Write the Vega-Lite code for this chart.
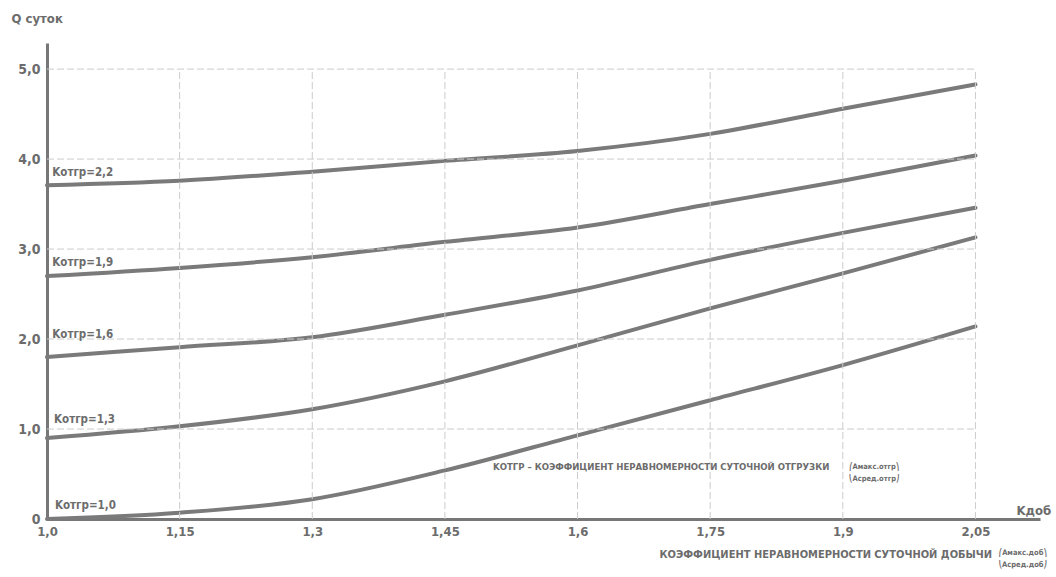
{
  "$schema": "https://vega.github.io/schema/vega-lite/v6.json",
  "width": 993,
  "height": 476,
  "autosize": {"type": "none"},
  "padding": {"left": 47, "top": 43, "right": 16, "bottom": 58},
  "background": "white",
  "config": {
    "view": {"stroke": null},
    "font": "'DejaVu Sans Condensed', 'Liberation Sans Narrow', 'DejaVu Sans', sans-serif",
    "text": {"font": "'DejaVu Sans Condensed', 'Liberation Sans Narrow', 'DejaVu Sans', sans-serif", "fontWeight": "bold", "color": "#6c6c6c"}
  },
  "datasets": {
    "curves": [
      {"k": "2,2", "x": 1.0, "q": 3.71}, {"k": "2,2", "x": 1.15, "q": 3.76}, {"k": "2,2", "x": 1.3, "q": 3.86}, {"k": "2,2", "x": 1.45, "q": 3.98},
      {"k": "2,2", "x": 1.6, "q": 4.09}, {"k": "2,2", "x": 1.75, "q": 4.28}, {"k": "2,2", "x": 1.9, "q": 4.56}, {"k": "2,2", "x": 2.05, "q": 4.83},
      {"k": "1,9", "x": 1.0, "q": 2.70}, {"k": "1,9", "x": 1.15, "q": 2.79}, {"k": "1,9", "x": 1.3, "q": 2.91}, {"k": "1,9", "x": 1.45, "q": 3.08},
      {"k": "1,9", "x": 1.6, "q": 3.24}, {"k": "1,9", "x": 1.75, "q": 3.50}, {"k": "1,9", "x": 1.9, "q": 3.76}, {"k": "1,9", "x": 2.05, "q": 4.04},
      {"k": "1,6", "x": 1.0, "q": 1.80}, {"k": "1,6", "x": 1.15, "q": 1.91}, {"k": "1,6", "x": 1.3, "q": 2.02}, {"k": "1,6", "x": 1.45, "q": 2.27},
      {"k": "1,6", "x": 1.6, "q": 2.54}, {"k": "1,6", "x": 1.75, "q": 2.88}, {"k": "1,6", "x": 1.9, "q": 3.18}, {"k": "1,6", "x": 2.05, "q": 3.46},
      {"k": "1,3", "x": 1.0, "q": 0.90}, {"k": "1,3", "x": 1.15, "q": 1.03}, {"k": "1,3", "x": 1.3, "q": 1.22}, {"k": "1,3", "x": 1.45, "q": 1.53},
      {"k": "1,3", "x": 1.6, "q": 1.93}, {"k": "1,3", "x": 1.75, "q": 2.34}, {"k": "1,3", "x": 1.9, "q": 2.73}, {"k": "1,3", "x": 2.05, "q": 3.13},
      {"k": "1,0", "x": 1.0, "q": 0.00}, {"k": "1,0", "x": 1.15, "q": 0.07}, {"k": "1,0", "x": 1.3, "q": 0.22}, {"k": "1,0", "x": 1.45, "q": 0.54},
      {"k": "1,0", "x": 1.6, "q": 0.93}, {"k": "1,0", "x": 1.75, "q": 1.32}, {"k": "1,0", "x": 1.9, "q": 1.71}, {"k": "1,0", "x": 2.05, "q": 2.14}
    ],
    "vgrid": [{"x": 1.15}, {"x": 1.3}, {"x": 1.45}, {"x": 1.6}, {"x": 1.75}, {"x": 1.9}, {"x": 2.05}],
    "hgrid": [{"q": 1}, {"q": 2}, {"q": 3}, {"q": 4}, {"q": 5}],
    "labels": [
      {"x": 1.006, "q": 3.84, "label": "Kотгр=2,2"},
      {"x": 1.006, "q": 2.84, "label": "Kотгр=1,9"},
      {"x": 1.006, "q": 2.04, "label": "Kотгр=1,6"},
      {"x": 1.008, "q": 1.10, "label": "Kотгр=1,3"},
      {"x": 1.009, "q": 0.14, "label": "Kотгр=1,0"}
    ]
  },
  "layer": [
    {
      "data": {"name": "curves"},
      "mark": {"type": "line", "stroke": "#7a7a7a", "strokeWidth": 4, "interpolate": "monotone", "strokeCap": "round"},
      "encoding": {
        "detail": {"field": "k"},
        "x": {
          "field": "x", "type": "quantitative",
          "scale": {"domain": [1, 2.123], "nice": false, "zero": false},
          "axis": {
            "values": [1, 1.15, 1.3, 1.45, 1.6, 1.75, 1.9, 2.05],
            "labelExpr": "datum.value == 1 ? '1,0' : replace(format(datum.value, '.2~f'), '.', ',')",
            "grid": false, "ticks": false,
            "domainColor": "#777777", "domainWidth": 3,
            "labelFont": "'DejaVu Sans Condensed', 'Liberation Sans Narrow', 'DejaVu Sans', sans-serif",
            "labelFontSize": 13, "labelFontWeight": "bold", "labelColor": "#6c6c6c", "labelPadding": 6,
            "labelFlush": false,
            "title": "КОЭФФИЦИЕНТ НЕРАВНОМЕРНОСТИ СУТОЧНОЙ ДОБЫЧИ",
            "titleFont": "'DejaVu Sans Condensed', 'Liberation Sans Narrow', 'DejaVu Sans', sans-serif",
            "titleFontSize": 11, "titleFontWeight": "bold", "titleColor": "#6c6c6c",
            "titleAlign": "left", "titleBaseline": "middle",
            "titleX": 612, "titleY": 35
          }
        },
        "y": {
          "field": "q", "type": "quantitative",
          "scale": {"domain": [0, 5.29], "nice": false, "zero": false},
          "axis": {
            "values": [0, 1, 2, 3, 4, 5],
            "labelExpr": "datum.value == 0 ? '0' : replace(format(datum.value, '.1f'), '.', ',')",
            "grid": false, "ticks": false,
            "domainColor": "#777777", "domainWidth": 3,
            "labelFont": "'DejaVu Sans Condensed', 'Liberation Sans Narrow', 'DejaVu Sans', sans-serif",
            "labelFontSize": 14, "labelFontWeight": "bold", "labelColor": "#6c6c6c", "labelPadding": 7,
            "labelFlush": false,
            "title": "Q суток",
            "titleFont": "'DejaVu Sans Condensed', 'Liberation Sans Narrow', 'DejaVu Sans', sans-serif",
            "titleFontSize": 13, "titleFontWeight": "bold", "titleColor": "#6c6c6c",
            "titleAngle": 0, "titleAlign": "left", "titleBaseline": "middle",
            "titleX": -36, "titleY": -25
          }
        }
      }
    },
    {
      "data": {"name": "vgrid"},
      "mark": {"type": "rule", "stroke": "#cccccc", "strokeWidth": 1, "strokeDash": [7, 3]},
      "encoding": {
        "x": {"field": "x", "type": "quantitative", "scale": {"domain": [1, 2.123], "nice": false, "zero": false}},
        "y": {"datum": 0, "type": "quantitative", "scale": {"domain": [0, 5.29], "nice": false, "zero": false}},
        "y2": {"datum": 5}
      }
    },
    {
      "data": {"name": "hgrid"},
      "mark": {"type": "rule", "stroke": "#cccccc", "strokeWidth": 1, "strokeDash": [7, 3]},
      "encoding": {
        "x": {"datum": 1, "type": "quantitative", "scale": {"domain": [1, 2.123], "nice": false, "zero": false}},
        "x2": {"datum": 2.05},
        "y": {"field": "q", "type": "quantitative", "scale": {"domain": [0, 5.29], "nice": false, "zero": false}}
      }
    },
    {
      "data": {"name": "labels"},
      "mark": {"type": "text", "align": "left", "baseline": "middle", "fontSize": 11.5},
      "encoding": {
        "x": {"field": "x", "type": "quantitative"},
        "y": {"field": "q", "type": "quantitative"},
        "text": {"field": "label"}
      }
    },
    {
      "data": {"values": [{"x": 1.5045, "q": 0.58, "t": "KОТГР – КОЭФФИЦИЕНТ НЕРАВНОМЕРНОСТИ СУТОЧНОЙ ОТГРУЗКИ"}]},
      "mark": {"type": "text", "align": "left", "baseline": "middle", "fontSize": 9.5},
      "encoding": {
        "x": {"field": "x", "type": "quantitative"},
        "y": {"field": "q", "type": "quantitative"},
        "text": {"field": "t"}
      }
    },
    {
      "data": {"values": [
        {"x": 1.9355, "q": 0.58, "t": "⎛Aмакс.отгр⎞\n⎝Aсред.отгр⎠"},
        {"x": 2.1035, "q": -0.38, "t": "⎛Aмакс.доб⎞\n⎝Aсред.доб⎠"}
      ]},
      "mark": {"type": "text", "align": "center", "baseline": "middle", "fontSize": 7.5, "lineBreak": "\n", "lineHeight": 12},
      "encoding": {
        "x": {"field": "x", "type": "quantitative"},
        "y": {"field": "q", "type": "quantitative"},
        "text": {"field": "t"}
      }
    },
    {
      "data": {"values": [{"x": 2.116, "q": 0.09, "t": "Kдоб"}]},
      "mark": {"type": "text", "align": "center", "baseline": "middle", "fontSize": 13},
      "encoding": {
        "x": {"field": "x", "type": "quantitative"},
        "y": {"field": "q", "type": "quantitative"},
        "text": {"field": "t"}
      }
    }
  ]
}
